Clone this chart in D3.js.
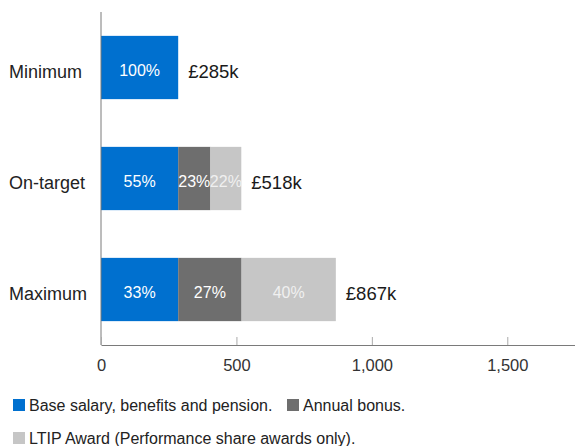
<!DOCTYPE html>
<html>
<head>
<meta charset="utf-8">
<script src="https://cdn.jsdelivr.net/npm/d3@7"></script>
<style>
  html, body { margin: 0; padding: 0; background: #fff; }
  svg { display: block; font-family: "Liberation Sans", Arial, Helvetica, sans-serif; }
</style>
</head>
<body>
<svg id="chart" width="575" height="446"></svg>
<script>
// Remuneration scenarios (£000s)
const scenarios = ["Minimum", "On-target", "Maximum"];
const baseSalary = [285, 285, 285];
const annualBonus = [0, 119, 234];
const ltipAward = [0, 114, 348];
const totalLabels = ["£285k", "£518k", "£867k"];
const pctBase = ["100%", "55%", "33%"];
const pctBonus = ["", "23%", "27%"];
const pctLtip = ["", "22%", "40%"];
const xTicks = [0, 500, 1000, 1500];

const seriesNames = ["Base salary, benefits and pension.", "Annual bonus.", "LTIP Award (Performance share awards only)."];
const seriesColors = ["#0070cf", "#6e6e6e", "#c6c6c6"];
const pctColors = ["#ffffff", "#ffffff", "#f0f0f0"];

const svg = d3.select("#chart");
const margin = { left: 101, right: 0, top: 12, bottom: 101 };
const width = 575, height = 446;

const x = d3.scaleLinear().domain([0, 1750]).range([margin.left, width - margin.right]);
const y = d3.scaleBand().domain(scenarios).range([margin.top, height - margin.bottom]).paddingInner(0.43).paddingOuter(0.215);

const rows = scenarios.map((s, i) => ({ scenario: s, values: [baseSalary[i], annualBonus[i], ltipAward[i]], pcts: [pctBase[i], pctBonus[i], pctLtip[i]], total: totalLabels[i] }));

// Stacked segments
const segs = [];
rows.forEach(r => {
  let acc = 0;
  r.values.forEach((v, k) => {
    segs.push({ scenario: r.scenario, k, x0: acc, x1: acc + v, pct: r.pcts[k] });
    acc += v;
  });
  r.sum = acc;
});

const midY = d => y(d) + y.bandwidth() / 2;

svg.append("g").selectAll("rect").data(segs.filter(d => d.x1 > d.x0)).join("rect")
  .attr("x", d => x(d.x0))
  .attr("width", d => x(d.x1) - x(d.x0))
  .attr("y", d => y(d.scenario))
  .attr("height", y.bandwidth())
  .attr("fill", d => seriesColors[d.k]);

svg.append("g").selectAll("text").data(segs.filter(d => d.pct)).join("text")
  .attr("x", d => (x(d.x0) + x(d.x1)) / 2)
  .attr("y", d => midY(d.scenario) + 8)
  .attr("text-anchor", "middle")
  .attr("font-size", 16)
  .attr("fill", d => pctColors[d.k])
  .text(d => d.pct);

// Totals to the right of each bar
svg.append("g").selectAll("text").data(rows).join("text")
  .attr("x", d => x(d.sum) + 10)
  .attr("y", d => midY(d.scenario) + 10)
  .attr("font-size", 18.5)
  .attr("fill", "#1a1a1a")
  .text(d => d.total);

// Category labels
svg.append("g").selectAll("text").data(scenarios).join("text")
  .attr("x", 9)
  .attr("y", d => midY(d) + 10)
  .attr("font-size", 18)
  .attr("fill", "#222")
  .text(d => d);

// Axes
const axisColor = "#7a7a7a";
svg.append("line")
  .attr("x1", x(0)).attr("x2", x(0))
  .attr("y1", margin.top).attr("y2", height - margin.bottom)
  .attr("stroke", axisColor).attr("stroke-width", 1);

const xAxis = svg.append("g")
  .attr("transform", `translate(0,${height - margin.bottom})`)
  .call(d3.axisBottom(x).tickValues(xTicks).tickSizeInner(-8).tickSizeOuter(0).tickPadding(14).tickFormat(d3.format(",")));
xAxis.select(".domain").attr("stroke", axisColor);
xAxis.selectAll(".tick line").attr("stroke", "#aaa");
xAxis.selectAll(".tick text").attr("font-size", 16.5).attr("fill", "#333").attr("font-family", "Liberation Sans, Arial, sans-serif");

// Legend
const legendItems = [
  { name: seriesNames[0], color: seriesColors[0], x: 13, y: 399 },
  { name: seriesNames[1], color: seriesColors[1], x: 287, y: 399 },
  { name: seriesNames[2], color: seriesColors[2], x: 13, y: 432 }
];
const lg = svg.append("g").selectAll("g").data(legendItems).join("g")
  .attr("transform", d => `translate(${d.x},${d.y})`);
lg.append("rect").attr("width", 12).attr("height", 12).attr("fill", d => d.color);
lg.append("text").attr("x", 16).attr("y", 12)
  .attr("font-size", 16).attr("fill", "#222").text(d => d.name);
</script>
</body>
</html>
